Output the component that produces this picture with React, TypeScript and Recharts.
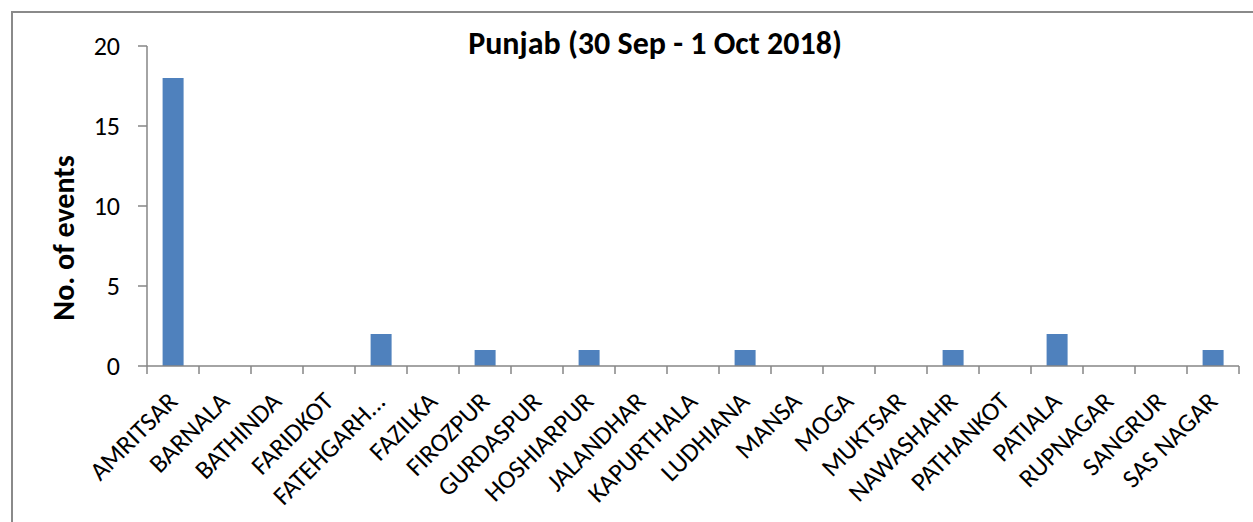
import React from "react";
import { BarChart, Bar, XAxis, YAxis } from "recharts";

const districts = [
  "AMRITSAR", "BARNALA", "BATHINDA", "FARIDKOT", "FATEHGARH...", "FAZILKA",
  "FIROZPUR", "GURDASPUR", "HOSHIARPUR", "JALANDHAR", "KAPURTHALA", "LUDHIANA",
  "MANSA", "MOGA", "MUKTSAR", "NAWASHAHR", "PATHANKOT", "PATIALA", "RUPNAGAR",
  "SANGRUR", "SAS NAGAR",
];
const events = [18, 0, 0, 0, 2, 0, 1, 0, 1, 0, 0, 1, 0, 0, 0, 1, 0, 2, 0, 0, 1];
const yTicks = [0, 5, 10, 15, 20];
const chartTitle = "Punjab (30 Sep - 1 Oct 2018)";
const yTitle = "No. of events";

const data = districts.map((d, i) => ({ name: d, value: events[i] }));

const FONT = "Carlito, Calibri, Lato, sans-serif";
const AXIS = "#868686";

const XTick = (props: any) => {
  const { x, y, payload, index, visibleTicksCount } = props;
  const off = payload?.offset ?? 26;
  const last = index === (visibleTicksCount ?? districts.length) - 1;
  const tx = x + 6;
  const ty = y + 37;
  return (
    <g>
      <line x1={x - off} y1={y} x2={x - off} y2={y + 8} stroke={AXIS} strokeWidth={1.5} />
      {last && <line x1={x + off} y1={y} x2={x + off} y2={y + 8} stroke={AXIS} strokeWidth={1.5} />}
      <text
        x={tx}
        y={ty}
        textAnchor="end"
        transform={`rotate(-45, ${tx}, ${ty})`}
        fontFamily={FONT}
        fontSize={26}
        fill="#000"
      >
        {payload.value}
      </text>
    </g>
  );
};

export default function App() {
  return (
    <div style={{ position: "absolute", left: 0, top: 0, width: 1253, height: 522, overflow: "hidden", background: "#fff" }}>
      <div
        style={{
          position: "absolute", left: 11, top: 11, width: 1300, height: 600,
          borderLeft: "2px solid #8a8a8a", borderTop: "2px solid #8a8a8a", boxSizing: "border-box",
        }}
      />
      <div style={{ position: "absolute", left: 0, top: 0 }}>
        <BarChart
          width={1253}
          height={522}
          data={data}
          margin={{ top: 46, right: 14, bottom: 16, left: 0 }}
          barCategoryGap="30%"
        >
          <XAxis
            dataKey="name"
            interval={0}
            height={140}
            tickLine={false}
            tickSize={0}
            tickMargin={0}
            stroke={AXIS}
            strokeWidth={1.5}
            tick={<XTick />}
          />
          <YAxis
            width={147}
            domain={[0, 20]}
            ticks={yTicks}
            stroke={AXIS}
            strokeWidth={1.5}
            tickSize={9}
            tickMargin={18}
            tick={{ fill: "#000", fontSize: 26, fontFamily: FONT }}
          />
          <Bar dataKey="value" fill="#4F81BD" isAnimationActive={false} />
        </BarChart>
      </div>
      <svg width={1253} height={522} style={{ position: "absolute", left: 0, top: 0, pointerEvents: "none" }}>
        <text x={655} y={54} textAnchor="middle" fontFamily={FONT} fontWeight="bold" fontSize={32} fill="#000">
          {chartTitle}
        </text>
        <text
          x={74}
          y={238}
          textAnchor="middle"
          transform="rotate(-90, 74, 238)"
          fontFamily={FONT}
          fontWeight="bold"
          fontSize={30}
          fill="#000"
        >
          {yTitle}
        </text>
      </svg>
    </div>
  );
}
